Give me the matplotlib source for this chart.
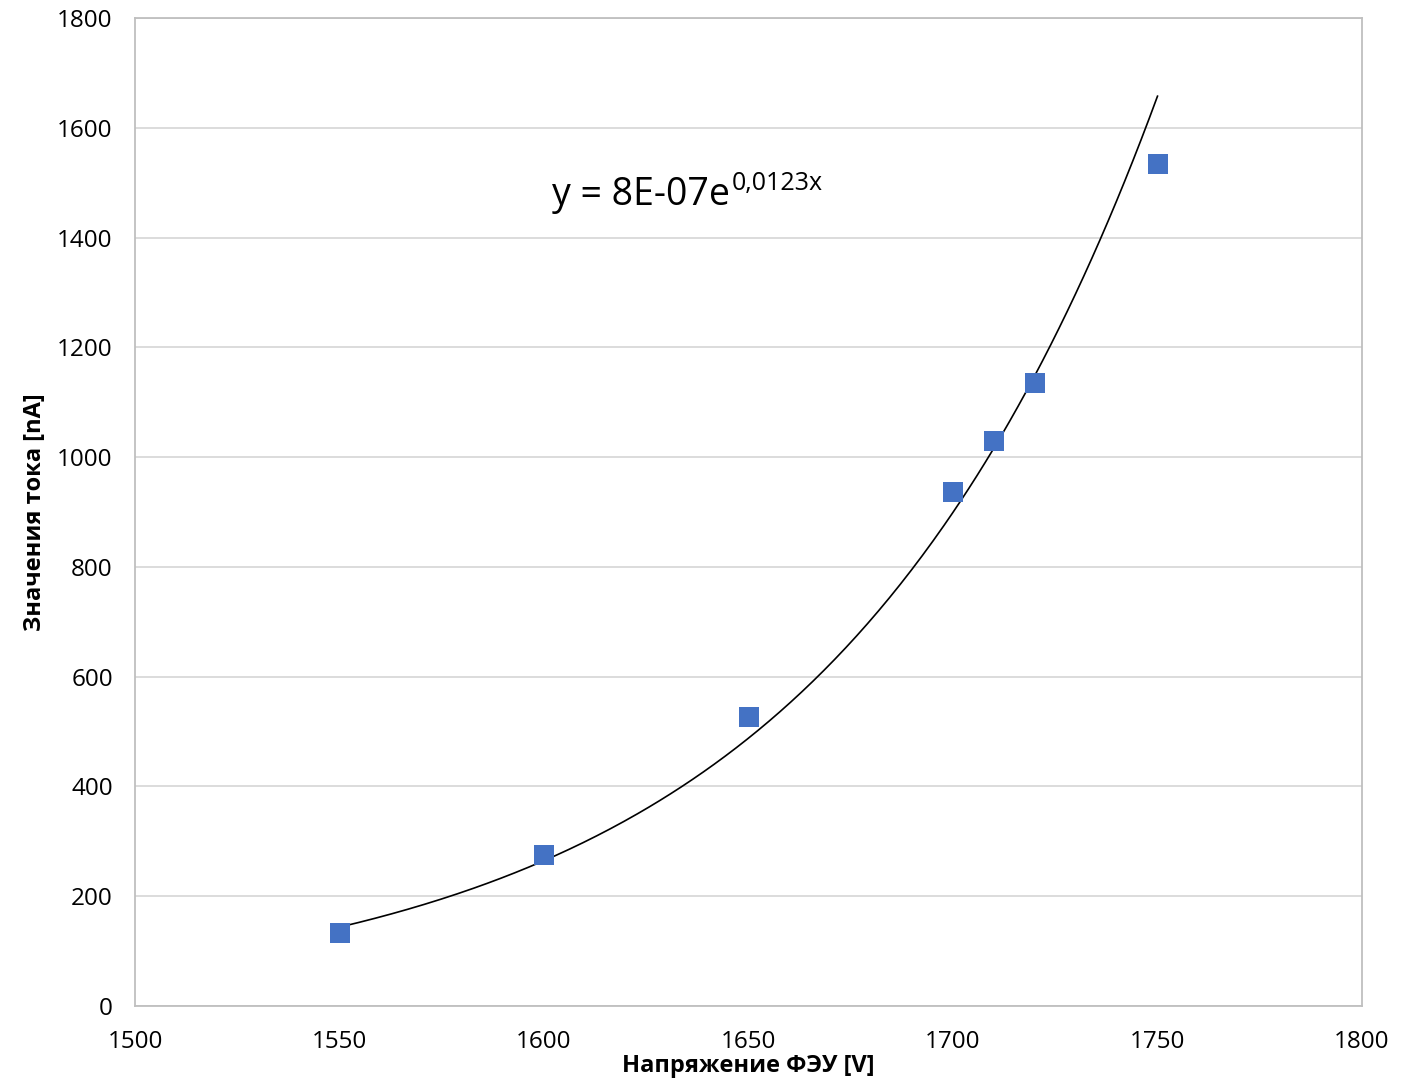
import numpy as np
import matplotlib
matplotlib.use("Agg")
import matplotlib.pyplot as plt
from matplotlib.transforms import offset_copy

# Measured PMT current vs. supply voltage
voltage = [1550, 1600, 1650, 1700, 1710, 1720, 1750]
current = [133, 275, 527, 936, 1029, 1135, 1534]

x_ticks = [1500, 1550, 1600, 1650, 1700, 1750, 1800]
y_ticks = [0, 200, 400, 600, 800, 1000, 1200, 1400, 1600, 1800]

x_label = "Напряжение ФЭУ [V]"
y_label = "Значения тока [nA]"
eq_base = "y = 8E-07e"
eq_exp = "0,0123x"

FONT = "Open Sans"
plt.rcParams["font.family"] = [FONT, "DejaVu Sans"]

fig = plt.figure(figsize=(14.17, 10.81), dpi=100)
ax = fig.add_axes([135 / 1417, 1 - 1006 / 1081, (1362 - 135) / 1417, (1006 - 18) / 1081])

ax.set_xlim(1500, 1800)
ax.set_ylim(0, 1800)
ax.set_xticks(x_ticks)
ax.set_yticks(y_ticks)
ax.tick_params(length=0, labelsize=17.5)
ax.tick_params(axis="y", pad=16)
ax.tick_params(axis="x", pad=17)
ax.grid(axis="y", color="#D9D9D9", linewidth=1.3)
ax.set_axisbelow(True)
for s in ax.spines.values():
    s.set_color("#BFBFBF")
    s.set_linewidth(1.3)

# Exponential trendline: least squares on log(current)
b, ln_a = np.polyfit(voltage, np.log(current), 1)
xs = np.linspace(min(voltage), max(voltage), 300)
ax.plot(xs, np.exp(ln_a) * np.exp(b * xs), color="black", linewidth=1.2, zorder=2)

ax.scatter(voltage, current, marker="s", s=215, color="#4472C4", linewidths=0, zorder=3)

ax.set_xlabel(x_label, fontsize=17, fontweight="bold", labelpad=0)
ax.set_ylabel(y_label, fontsize=17, fontweight="bold", labelpad=7)

eq_x, eq_y = 1602, 1459
t = ax.text(eq_x, eq_y, eq_base, fontsize=27, va="baseline", ha="left")
fig.canvas.draw()
bb = t.get_window_extent()
x_end = ax.transData.inverted().transform((bb.x1, bb.y0))[0]
ax.text(x_end + 0.3, eq_y, eq_exp, fontsize=18, va="baseline", ha="left",
        transform=offset_copy(ax.transData, fig=fig, x=0, y=11, units="points"))

fig.savefig("out.png", dpi=100)
